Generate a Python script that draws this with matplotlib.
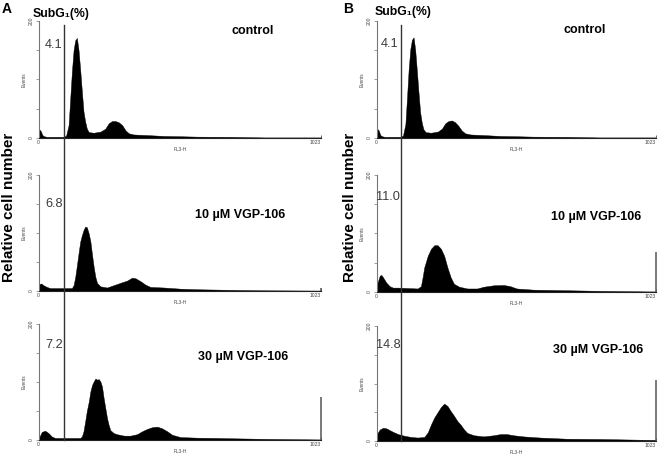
import matplotlib
matplotlib.use("Agg")
import matplotlib.pyplot as plt
from matplotlib.lines import Line2D

plt.rcParams['font.family'] = ['Liberation Sans', 'DejaVu Sans']

# ---------------- data ----------------
# Panel A histograms: channel (FL3-H) and events
a_ctrl_ch = [0, 4, 8, 14, 20, 30, 60, 90, 100, 109, 115, 121, 127, 133, 139, 145, 151, 157, 163, 169,
             175, 182, 200, 225, 242, 254, 266, 278, 290, 303, 315, 327, 345, 393, 454, 514, 575, 696, 817, 1010, 1023]
a_ctrl_ev = [3, 14, 12, 5, 3, 2, 2, 2, 4, 22, 68, 114, 150, 167, 171, 150, 117, 80, 45, 28,
             16, 10, 9, 11, 16, 25, 29, 29, 27, 22, 13, 8, 6, 5, 3.5, 3, 2.3, 2, 1, 1, 1]

a_10_ch = [0, 4, 10, 18, 30, 42, 91, 121, 127, 133, 139, 145, 151, 157, 163, 169, 175, 182, 188, 194,
           200, 206, 212, 224, 248, 272, 296, 321, 339, 351, 369, 387, 405, 454, 514, 575, 696, 817, 1010, 1023]
a_10_ev = [4, 12, 13, 10, 7, 5, 5, 5, 10, 24, 44, 65, 85, 96, 105, 111, 110, 99, 85, 62,
           41, 24, 14, 8, 6, 10, 14, 18, 23, 22, 17, 11, 7, 6, 4, 3, 2, 1.2, 0.8, 0.8]

a_30_ch = [0, 4, 12, 24, 36, 48, 60, 151, 157, 163, 169, 175, 182, 188, 194, 200, 206, 212, 218, 224,
           230, 236, 242, 248, 254, 260, 272, 284, 309, 333, 357, 375, 393, 411, 430, 448, 466, 484, 514, 575,
           647, 696, 817, 1010, 1023]
a_30_ev = [2, 6, 14, 16, 12, 6, 3.5, 3.5, 6, 15, 32, 50, 66, 84, 95, 101, 106, 104, 105, 101,
           92, 72, 55, 38, 26, 17, 12, 10, 7.5, 7.5, 10, 15, 19, 22, 23, 20, 15, 9, 5, 4,
           3.5, 3, 2, 1, 1]

# Panel B histograms
b_ctrl_ch = [0, 4, 8, 14, 20, 30, 60, 87, 97, 106, 112, 118, 124, 130, 136, 142, 148, 154, 160, 166,
             172, 180, 200, 225, 240, 252, 264, 276, 288, 300, 312, 325, 345, 393, 454, 514, 575, 696, 817, 1010, 1023]
b_ctrl_ev = [3, 15, 13, 5, 3, 2, 2, 2, 4, 24, 70, 118, 152, 168, 172, 150, 115, 78, 44, 26,
             15, 10, 9, 11, 16, 25, 29, 30, 27, 21, 13, 8, 6, 5, 3.5, 3, 2.3, 2, 1, 1, 1]

b_10_ch = [0, 4, 12, 18, 24, 36, 48, 60, 79, 151, 163, 169, 175, 188, 200, 212, 224, 236, 248, 260,
           272, 284, 303, 333, 369, 393, 430, 466, 490, 514, 575, 696, 817, 998, 1023]
b_10_ev = [8, 16, 28, 29, 25, 16, 10, 7.5, 7.5, 6, 10, 25, 42, 62, 74, 80, 80, 74, 62, 42,
           25, 14, 9, 6, 6, 9, 11.5, 12, 10, 6, 4, 3, 2, 1, 1]

b_30_ch = [0, 4, 12, 24, 36, 48, 60, 79, 103, 127, 151, 175, 188, 200, 212, 224, 236, 248, 260, 272,
           284, 296, 309, 321, 333, 357, 393, 430, 454, 478, 502, 538, 599, 696, 817, 998, 1023]
b_30_ev = [8, 14, 20, 23, 22, 19, 16, 12, 9, 7, 6, 7, 15, 29, 41, 50, 59, 65, 61, 52,
           44, 35, 28, 20, 14, 10, 8, 10, 12, 12, 10, 8, 6, 4, 3.5, 2, 2]

# events piled in the last channel (1023)
a_end_spike = [0, 5, 74]
b_end_spike = [0, 68, 106]

# SubG1 gate position (channel) and percentages
gate_a = 92
gate_b = 90
subg_a = ['4.1', '6.8', '7.2']
subg_b = ['4.1', '11.0', '14.8']
conditions = ['control', '10 µM VGP-106', '30 µM VGP-106']

# ---------------- figure ----------------
W, H = 660, 458
fig = plt.figure(figsize=(W / 100, H / 100), dpi=100)
fig.patch.set_facecolor('white')


def add_ax(left, right, top, base):
    return fig.add_axes([left / W, 1 - base / H, (right - left) / W, (base - top) / H])


def style(ax):
    ax.set_xlim(0, 1023)
    ax.set_ylim(0, 200)
    ax.patch.set_alpha(0)
    for s in ('top', 'right'):
        ax.spines[s].set_visible(False)
    ax.spines['left'].set_color('#777777')
    ax.spines['left'].set_linewidth(0.8)
    ax.spines['bottom'].set_color('#222222')
    ax.spines['bottom'].set_linewidth(0.8)
    ax.set_yticks([0, 50, 100, 150, 200])
    ax.set_yticklabels(['0', '', '', '', '200'], rotation=90, va='center', fontsize=3.6, color='#444444')
    ax.tick_params(axis='y', length=2.5, width=0.5, color='#777777', pad=1)
    ax.set_xticks([0, 1023])
    labs = ax.set_xticklabels(['0', '1023'], fontsize=3.6, color='#444444')
    labs[1].set_horizontalalignment('right')
    ax.tick_params(axis='x', length=2.5, width=0.5, direction='in', color='#333333', pad=1.5)
    ax.set_ylabel('Events', fontsize=3.4, labelpad=1.5, color='#444444')
    ax.set_xlabel('FL3-H', fontsize=3.4, labelpad=1.2, color='#444444')


rows_a = [(21, 138), (175, 291), (324, 440)]
rows_b = [(21, 138), (175, 292), (326, 441)]

data_a = [(a_ctrl_ch, a_ctrl_ev), (a_10_ch, a_10_ev), (a_30_ch, a_30_ev)]
data_b = [(b_ctrl_ch, b_ctrl_ev), (b_10_ch, b_10_ev), (b_30_ch, b_30_ev)]

axes_a, axes_b = [], []
for i in range(3):
    ax = add_ax(38.5, 321, *rows_a[i])
    ax.fill_between(data_a[i][0], data_a[i][1], 0, color='black', lw=0.3, edgecolor='black')
    if a_end_spike[i] > 0:
        ax.vlines(1023, 0, a_end_spike[i], color='#555555', lw=1.1, clip_on=False)
    style(ax)
    axes_a.append(ax)

    ax = add_ax(376.5, 655.5, *rows_b[i])
    ax.fill_between(data_b[i][0], data_b[i][1], 0, color='black', lw=0.3, edgecolor='black')
    if b_end_spike[i] > 0:
        ax.vlines(1023, 0, b_end_spike[i], color='#555555', lw=1.1, clip_on=False)
    style(ax)
    axes_b.append(ax)


def to_fig(ax, x, y):
    return fig.transFigure.inverted().transform(ax.transData.transform((x, y)))


# SubG1 gate lines spanning the three histograms
for axes, g in ((axes_a, gate_a), (axes_b, gate_b)):
    p0 = to_fig(axes[0], g, 193)
    p1 = to_fig(axes[2], g, 0)
    fig.add_artist(Line2D([p0[0], p1[0]], [p0[1], p1[1]], color='#333333', lw=1.0))


def ftext(x, y, s, **kw):
    fig.text(x / W, 1 - y / H, s, **kw)


# panel letters and headers
ftext(2, 13, 'A', fontsize=10, fontweight='bold', va='baseline')
ftext(343, 13, 'B', fontsize=10, fontweight='bold', va='baseline')
ftext(33, 17, 'SubG₁(%)', fontsize=8.8, fontweight='bold', va='baseline')
ftext(375, 15, 'SubG₁(%)', fontsize=8.8, fontweight='bold', va='baseline')

# y label
ftext(9.5, 207, 'Relative cell number', fontsize=11, fontweight='bold', rotation=90,
      ha='center', va='center')
ftext(350, 207, 'Relative cell number', fontsize=11, fontweight='bold', rotation=90,
      ha='center', va='center')

# percentages
pa_pos = [(62.5, 48), (62.5, 207), (63, 348)]
pb_pos = [(398.5, 47), (400, 200), (401, 348)]
for i in range(3):
    ftext(*pa_pos[i], subg_a[i], fontsize=9.2, color='#3a3a3a', ha='right', va='baseline')
    ftext(*pb_pos[i], subg_b[i], fontsize=9.2, color='#3a3a3a', ha='right', va='baseline')

# condition labels
ca_pos = [(232, 34), (195, 218), (198, 360)]
cb_pos = [(563, 33), (551, 220), (553, 353)]
for i in range(3):
    ftext(*ca_pos[i], conditions[i], fontsize=9, fontweight='bold', ha='left', va='baseline')
    ftext(*cb_pos[i], conditions[i], fontsize=9, fontweight='bold', ha='left', va='baseline')

fig.savefig('out.png', dpi=100)
